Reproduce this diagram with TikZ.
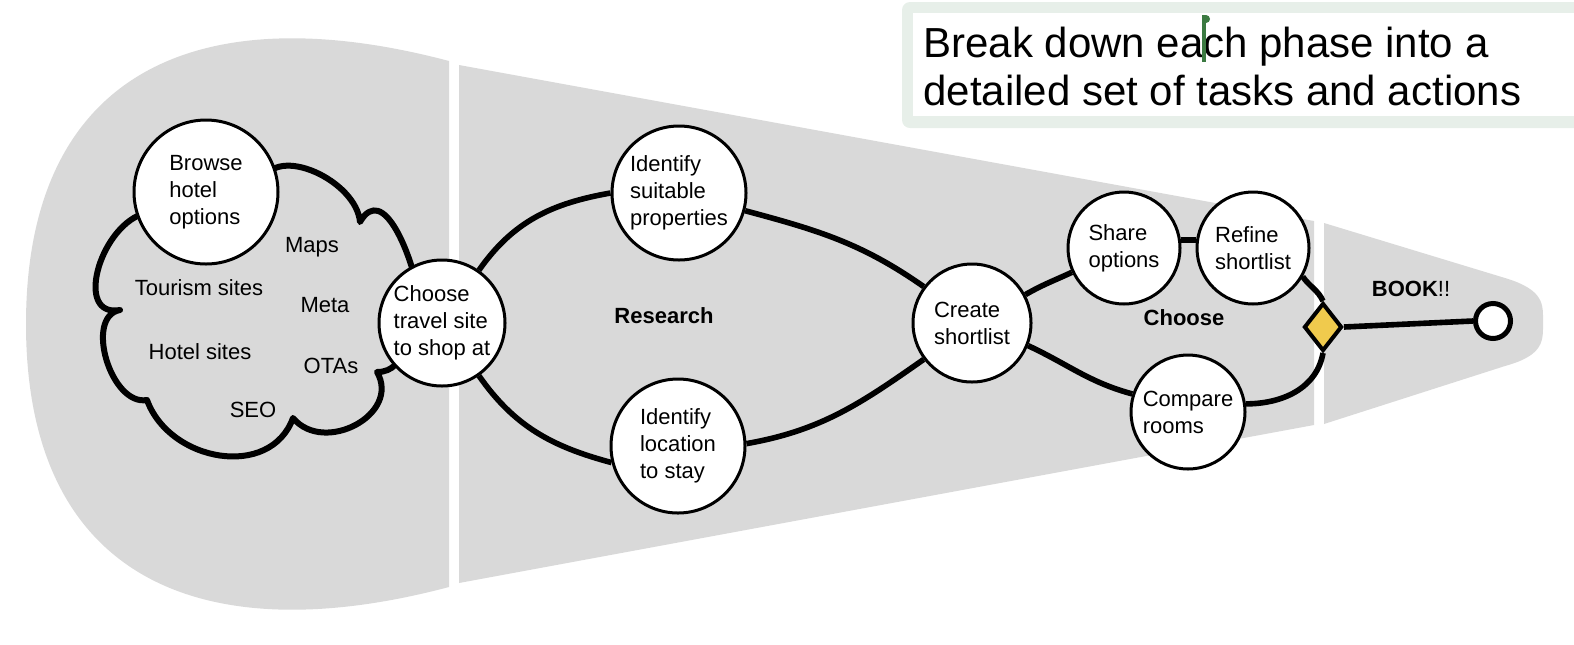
\documentclass[tikz,border=0pt]{standalone}
\usepackage{fontspec}
\setmainfont{Liberation Sans}
\usetikzlibrary{shapes.geometric}
\definecolor{funnelgray}{HTML}{D9D9D9}
\definecolor{notegreen}{HTML}{E7EFE9}
\definecolor{cursorgreen}{HTML}{3B7A41}
\definecolor{gold}{HTML}{F0CA4D}
\tikzset{
  task/.style={circle, draw, line width=1.5pt, fill=white, align=left, inner sep=0pt,
    font=\fontsize{11}{13.5}\selectfont},
  link/.style={line width=2.8pt},
  tag/.style={inner sep=0pt, font=\fontsize{11}{13.5}\selectfont},
  phase/.style={inner sep=0pt, font=\fontsize{11}{13.5}\selectfont\bfseries},
}

\begin{document}
\begin{tikzpicture}[x=0.5pt, y=-0.5pt]
  \clip (0,0) rectangle (1574,644);
  % funnel
  \fill[funnelgray] (449,61) .. controls (200,-5) and (26,70) .. (26,324)
    .. controls (26,578) and (200,653) .. (449,587) -- cycle;
  \fill[funnelgray] (459,65) -- (1314,221) -- (1314,425) -- (459,583) -- cycle;
  \fill[funnelgray] (1324,223) -- (1505,278) .. controls (1545,290) and (1543,305) .. (1543,322)
    .. controls (1543,340) and (1545,355) .. (1505,366) -- (1324,424) -- cycle;

  % note
  \fill[notegreen, rounded corners=4pt] (902,2) rectangle (1600,128);
  \fill[white] (913,13) rectangle (1600,116);
  \node[anchor=north west, inner sep=0pt, align=left, font=\fontsize{21}{24}\selectfont] (note)
    at (923,27) {Break down each phase into a\\detailed set of tasks and actions};
  \fill[cursorgreen] (1202,15) rectangle (1206,62);
  \fill[cursorgreen] (1206,19) circle[radius=4];

  % cloud
  \draw[line width=3pt, line join=round] (262,182) to[out=70,in=95] (360,222)
    to[out=60,in=100,looseness=1.2] (420,300) to[out=-120,in=0] (377,372)
    to[out=-60,in=-50,looseness=1.3] (293,418) to[out=-110,in=-70,looseness=1.15] (147,400)
    to[out=190,in=190] (120,310) to[out=190,in=200,looseness=1.2] (142,214) -- cycle;
  \node[tag] (tourism) at (199,288) {Tourism sites};
  \node[tag] (maps) at (312,247) {Maps};
  \node[tag] (meta) at (325,305) {Meta};
  \node[tag] (hotel) at (200,352) {Hotel sites};
  \node[tag] (otas) at (331,366) {OTAs};
  \node[tag] (seo) at (253,410) {SEO};

  % tasks
  \node[task, minimum size=72pt] (browse) at (206,192) {Browse\\hotel\\options};
  \node[task, minimum size=63pt] (choose) at (442,323) {Choose\\travel site\\to shop at};
  \node[task, minimum size=67pt] (suitable) at (679,193) {Identify\\suitable\\properties};
  \node[task, minimum size=67pt] (location) at (678,446) {Identify\\location\\to stay};
  \node[task, minimum size=59pt] (shortlist) at (972,323) {Create\\shortlist};
  \node[task, minimum size=56pt] (share) at (1124,248) {Share\\options};
  \node[task, minimum size=56pt] (refine) at (1253,248) {Refine\\shortlist};
  \node[task, minimum size=57pt] (compare) at (1188,412) {Compare\\rooms};
  \node[diamond, draw, line width=2pt, fill=gold, inner sep=0pt,
    minimum width=19pt, minimum height=24pt] (gate) at (1323,327) {};
  \node[circle, draw, line width=2.5pt, fill=white, inner sep=0pt, minimum size=17.5pt] (finish) at (1493,321) {};

  \node[phase] (research) at (664,316) {Research};
  \node[phase] (choosing) at (1184,318) {Choose};
  \node[tag] (book) at (1411,289) {\textbf{BOOK}!!};

  % links
  \draw[link] (choose.55) to[out=55,in=190] (suitable.180);
  \draw[link] (choose.-55) to[out=-55,in=165] (location.194);
  \draw[link] (suitable.-15) to[out=-15,in=145] (shortlist.143);
  \draw[link] (location.2) to[out=10,in=215] (shortlist.217);
  \draw[link] (shortlist.28) to[out=30,in=205] (share.205);
  \draw[link] (share.8) -- (refine.172);
  \draw[link] (shortlist.-22) to[out=-25,in=165] (compare.162);
  \draw[link] (refine.-30) to[out=-55,in=115] (gate.north);
  \draw[link] (compare.8) to[out=0,in=-100] (gate.south);
  \draw[link] (gate.east) -- (finish.west);
\end{tikzpicture}
\end{document}
